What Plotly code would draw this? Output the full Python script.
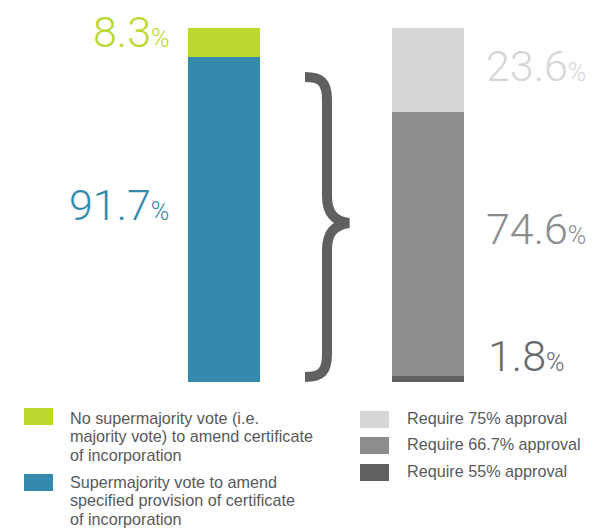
import plotly.graph_objects as go

# page body has an 8px margin; work in reference pixel coords and shift
OFF = 8
W, H = 604 - OFF, 528 - OFF

# ---- data ----
bars = ["left", "right"]
left_names = ["Supermajority vote to amend<br>specified provision of certificate<br>of incorporation",
              "No supermajority vote (i.e.<br>majority vote) to amend certificate<br>of incorporation"]
left_values = [91.7, 8.3]
left_colors = ["#348aad", "#bdd731"]

right_names = ["Require 55% approval", "Require 66.7% approval", "Require 75% approval"]
right_values = [1.8, 74.6, 23.6]
right_colors = ["#5f6062", "#8a8c8e", "#d6d6d6"]
right_label_colors = ["#68696b", "#8a8c8e", "#d6d6d6"]


def px(x):
    return (x - OFF) / W


def py(y):
    return 1 - (y - OFF) / H


BAR_L, BAR_R = 224, 428
unit = BAR_R - BAR_L
bw = 72 / unit

fig = go.Figure()
for name, v, c in zip(left_names, left_values, left_colors):
    fig.add_trace(go.Bar(x=[bars[0]], y=[v], name=name, marker=dict(color=c, line=dict(width=0)),
                         width=bw, showlegend=False, hoverinfo="skip"))
for name, v, c in zip(right_names, right_values, right_colors):
    fig.add_trace(go.Bar(x=[bars[1]], y=[v], name=name, marker=dict(color=c, line=dict(width=0)),
                         width=bw, showlegend=False, hoverinfo="skip"))

num_font = "Roboto, sans-serif"
annotations = []


def big_label(value, color, y_center, x_right=None, x_left=None):
    txt = f"{value}<span style='font-size:25px'>%</span>"
    common = dict(y=py(y_center), xref="paper", yref="paper", yanchor="middle", showarrow=False,
                  borderpad=0, text=txt, font=dict(family=num_font, size=43, color=color, weight=300))
    if x_right is not None:
        annotations.append(dict(x=px(x_right), xanchor="right", **common))
    else:
        annotations.append(dict(x=px(x_left), xanchor="left", **common))


big_label(left_values[1], left_colors[1], 32, x_right=170)
big_label(left_values[0], left_colors[0], 205, x_right=170)
big_label(right_values[2], right_label_colors[2], 66, x_left=485)
big_label(right_values[1], right_label_colors[1], 229, x_left=485)
big_label(right_values[0], right_label_colors[0], 356, x_left=487)

shapes = []


def P(x, y):
    return f"{px(x):.5f},{py(y):.5f}"


brace = ("M " + P(305, 77) + " C " + P(321, 77) + " " + P(327, 82) + " " + P(327, 100) +
         " L " + P(327, 196) + " C " + P(327, 213) + " " + P(334, 221) + " " + P(349, 223) +
         " C " + P(334, 225) + " " + P(327, 233) + " " + P(327, 250) +
         " L " + P(327, 354) + " C " + P(327, 372) + " " + P(321, 377) + " " + P(305, 377))
shapes.append(dict(type="path", xref="paper", yref="paper", path=brace,
                   line=dict(color="#5f6062", width=10)))

# legend (custom); base size sets line spacing (1.3em), spans set glyph size
LEG_SIZE = 14.15
leg_font = dict(family="Liberation Sans, Arial, sans-serif", size=LEG_SIZE, color="#58595b")


def leg_text(name):
    return "<br>".join(f"<span style='font-size:16.2px'>{ln}</span>" for ln in name.split("<br>"))


left_leg = [(left_names[1], left_colors[1], 408, 436.5), (left_names[0], left_colors[0], 474, 500)]
for name, c, top, mid_line in left_leg:
    shapes.append(dict(type="rect", xref="paper", yref="paper", x0=px(24), x1=px(53),
                       y0=py(top + 17), y1=py(top), fillcolor=c, line=dict(width=0)))
    annotations.append(dict(x=px(69), y=py(mid_line), xref="paper", yref="paper",
                            xanchor="left", yanchor="middle", align="left", showarrow=False,
                            borderpad=0, text=leg_text(name), font=leg_font))

right_tops = [464, 437, 411]
for name, c, top in zip(right_names, right_colors, right_tops):
    shapes.append(dict(type="rect", xref="paper", yref="paper", x0=px(360), x1=px(389),
                       y0=py(top + 17), y1=py(top), fillcolor=c, line=dict(width=0)))
    annotations.append(dict(x=px(406), y=py(top + 7), xref="paper", yref="paper",
                            xanchor="left", yanchor="middle", align="left", showarrow=False,
                            borderpad=0, text=leg_text(name), font=leg_font))

fig.update_layout(
    width=W, height=H, barmode="stack",
    margin=dict(l=0, r=0, t=0, b=0),
    paper_bgcolor="white", plot_bgcolor="white",
    xaxis=dict(domain=[0, 1], range=[-(BAR_L - OFF) / unit, (W + OFF - BAR_L) / unit], visible=False,
               type="category", categoryorder="array", categoryarray=bars),
    yaxis=dict(domain=[py(382), py(28)], range=[0, 100], visible=False),
    shapes=shapes, annotations=annotations, showlegend=False,
)

fig.write_html("out.html")
